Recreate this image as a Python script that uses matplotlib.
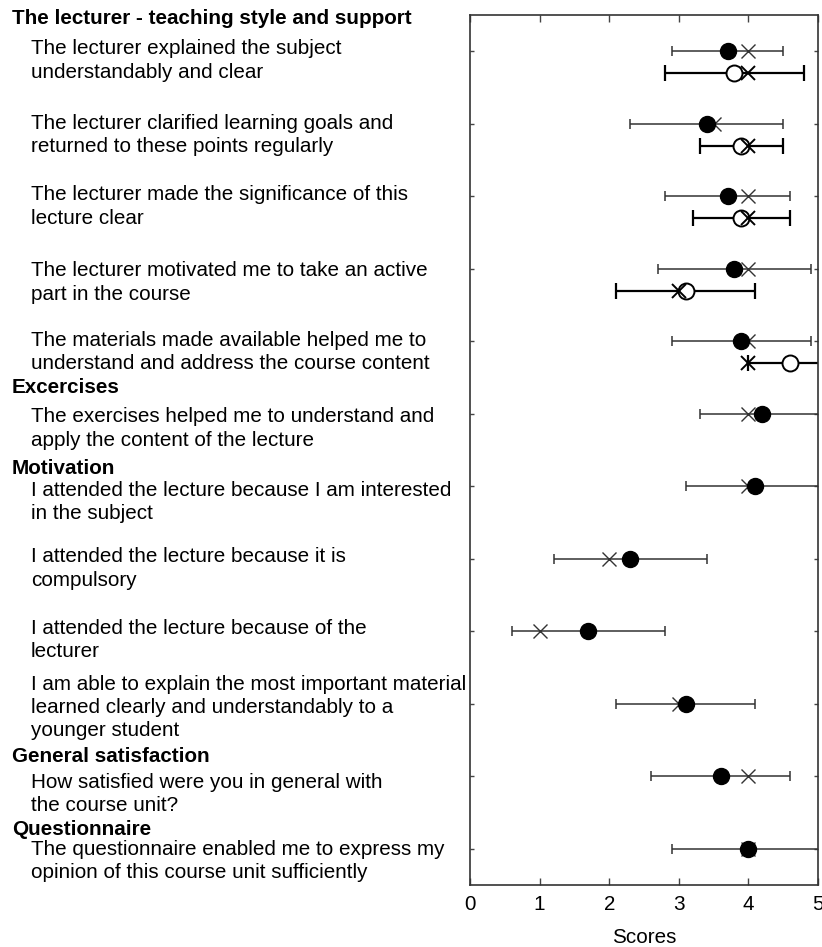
import numpy as np
import matplotlib
matplotlib.use("Agg")
from matplotlib import pyplot as plt

plt.rcParams['font.family'] = ['Liberation Sans', 'DejaVu Sans']

# Survey items (one row each, top to bottom)
items = [
    "The lecturer explained the subject\nunderstandably and clear",
    "The lecturer clarified learning goals and\nreturned to these points regularly",
    "The lecturer made the significance of this\nlecture clear",
    "The lecturer motivated me to take an active\npart in the course",
    "The materials made available helped me to\nunderstand and address the course content",
    "The exercises helped me to understand and\napply the content of the lecture",
    "I attended the lecture because I am interested\nin the subject",
    "I attended the lecture because it is\ncompulsory",
    "I attended the lecture because of the\nlecturer",
    "I am able to explain the most important material\nlearned clearly and understandably to a\nyounger student",
    "How satisfied were you in general with\nthe course unit?",
    "The questionnaire enabled me to express my\nopinion of this course unit sufficiently",
]
sections = ["The lecturer - teaching style and support", "Excercises", "Motivation",
            "General satisfaction", "Questionnaire"]

# Current course: mean, standard deviation, median
cur_mean = [3.7, 3.4, 3.7, 3.8, 3.9, 4.2, 4.1, 2.3, 1.7, 3.1, 3.6, 4.0]
cur_sd = [0.8, 1.1, 0.9, 1.1, 1.0, 0.9, 1.0, 1.1, 1.1, 1.0, 1.0, 1.1]
cur_median = [4.0, 3.5, 4.0, 4.0, 4.0, 4.0, 4.0, 2.0, 1.0, 3.0, 4.0, 4.0]

# Comparison values (only for the first five items)
cmp_mean = [3.8, 3.9, 3.9, 3.1, 4.6]
cmp_sd = [1.0, 0.6, 0.7, 1.0, 0.6]
cmp_median = [4.0, 4.0, 4.0, 3.0, 4.0]

W, H = 822, 947
FS = 14.85
fig = plt.figure(figsize=(W / 100, H / 100), dpi=100)
ax = fig.add_axes([470 / W, 1 - 885 / H, 348 / W, 870 / H])

rows = np.arange(1, len(items) + 1)
rows_cmp = rows[:len(cmp_mean)] + 0.3

# current course
ax.errorbar(cur_mean, rows, xerr=cur_sd, fmt='none', ecolor='#333333',
            elinewidth=1.1, capsize=3.5, capthick=1.1, zorder=2)
ax.plot(cur_median, rows, 'x', color='#333333', markersize=10, mew=1.0, zorder=3)
ax.plot(cur_mean, rows, 'o', color='black', markersize=11.5, zorder=4)

# comparison
ax.errorbar(cmp_mean, rows_cmp, xerr=cmp_sd, fmt='none', ecolor='black',
            elinewidth=1.6, capsize=5.5, capthick=1.6, zorder=2)
ax.plot(cmp_mean, rows_cmp, 'o', mfc='white', mec='black', mew=1.4,
        markersize=11.5, zorder=4)
ax.plot(cmp_median, rows_cmp, 'x', color='black', markersize=10, mew=1.4, zorder=5)

ax.set_xlim(0, 5)
ax.set_ylim(12.5, 0.5)
ax.set_xticks(range(6))
ax.set_yticks(rows)
ax.set_yticklabels([])
ax.tick_params(axis='x', direction='in', top=True, length=5, width=1,
               labelsize=FS, pad=7, color='#444444')
ax.tick_params(axis='y', direction='in', right=True, length=3, width=1,
               color='#444444')
for s in ax.spines.values():
    s.set_color('#333333')
    s.set_linewidth(1.2)
ax.set_xlabel("Scores", fontsize=FS, labelpad=10)

# left-hand labels, positioned in pixels from the top
item_y = [49, 123, 195, 271, 340, 417, 490, 557, 628, 684, 782, 849]
section_y = [18, 387, 468, 757, 829]
line_h = 23.3


def fy(py):
    return 1 - py / H


for txt, py in zip(sections, section_y):
    fig.text(12 / W, fy(py), txt, fontsize=FS, fontweight='bold', va='center')
for txt, py in zip(items, item_y):
    for i, line in enumerate(txt.split("\n")):
        fig.text(31 / W, fy(py + i * line_h), line, fontsize=FS, va='center')

fig.savefig("out.png", dpi=100)
